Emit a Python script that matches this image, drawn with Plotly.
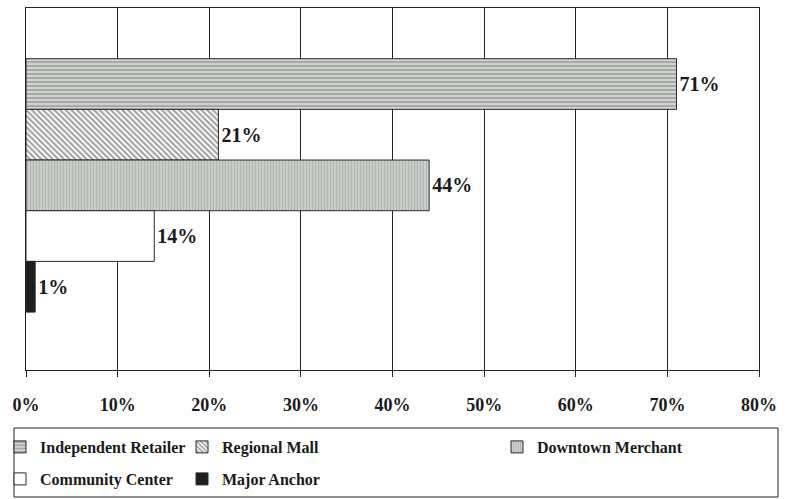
import plotly.graph_objects as go

# Survey results: share of respondents by retail format
series = ["Independent Retailer", "Regional Mall", "Downtown Merchant",
          "Community Center", "Major Anchor"]
values = [71, 21, 44, 14, 1]
category = ["Retail"]
tick_vals = [0, 10, 20, 30, 40, 50, 60, 70, 80]
tick_text = ["0%", "10%", "20%", "30%", "40%", "50%", "60%", "70%", "80%"]

styles = {
    "Independent Retailer": dict(color="#c9ccc9",
                                 pattern=dict(shape="-", fgcolor="#737873", bgcolor="#cfd2cf",
                                              size=4, solidity=0.45)),
    "Regional Mall": dict(color="#ffffff",
                          pattern=dict(shape="\\", fgcolor="#3c3c3c", bgcolor="#ffffff",
                                       size=4, solidity=0.5)),
    "Downtown Merchant": dict(color="#c8ccc8",
                              pattern=dict(shape="|", fgcolor="#8d928d", bgcolor="#d0d4d0",
                                           size=3, solidity=0.45)),
    "Community Center": dict(color="#ffffff"),
    "Major Anchor": dict(color="#1e1e1e"),
}
legend_of = {
    "Independent Retailer": "legend",
    "Regional Mall": "legend",
    "Downtown Merchant": "legend2",
    "Community Center": "legend3",
    "Major Anchor": "legend3",
}

serif = "Liberation Serif"
fig = go.Figure()
for i, (name, v) in enumerate(zip(series, values)):
    fig.add_trace(go.Bar(
        name=name, y=category, x=[v], orientation="h",
        marker=dict(**styles[name], line=dict(color="#2a2a2a", width=1)),
        text=[f"{v}%"], textposition="outside",
        textfont=dict(family=serif, size=20, color="#1a1a1a", weight="bold"),
        cliponaxis=False, legend=legend_of[name], legendrank=i + 1,
    ))

legend_common = dict(orientation="h", yref="container",
                     yanchor="top", xanchor="left", itemwidth=30,
                     font=dict(family=serif, size=16, color="#1a1a1a", weight="bold"),
                     bgcolor="rgba(0,0,0,0)", tracegroupgap=0, itemclick=False)

left_x = (-5 - 26) / 733  # paper coordinate a few pixels left of the figure edge

fig.update_layout(
    width=789, height=499,
    margin=dict(l=26, r=30, t=8, b=129),
    plot_bgcolor="#ffffff", paper_bgcolor="#ffffff",
    barmode="group", bargap=0.3, bargroupgap=0,
    xaxis=dict(range=[0, 80], tickvals=tick_vals, ticktext=tick_text,
               showgrid=True, gridcolor="#222222", gridwidth=1,
               showline=True, linecolor="#222222", linewidth=1, mirror=True,
               ticks="outside", ticklen=6, tickcolor="#222222",
               ticklabelstandoff=12, zeroline=False,
               tickfont=dict(family=serif, size=18, color="#1a1a1a", weight="bold")),
    yaxis=dict(range=[0.51, -0.49], showticklabels=False, showgrid=False,
               showline=True, linecolor="#222222", linewidth=1, mirror=True,
               ticks=""),
    legend=dict(**legend_common, xref="paper", entrywidth=137, x=left_x, y=1 - 430 / 499),
    legend2=dict(**legend_common, xref="container", entrywidth=220, x=497 / 789, y=1 - 430 / 499),
    legend3=dict(**legend_common, xref="paper", entrywidth=137, x=left_x, y=1 - 462 / 499),
    shapes=[dict(type="rect", xref="paper", yref="paper",
                 x0=(14 - 26) / 733, x1=(778 - 26) / 733,
                 y0=(370 - 497) / 362, y1=(370 - 428) / 362,
                 line=dict(color="#222222", width=1), fillcolor="rgba(0,0,0,0)")],
)

fig.write_html("out.html")
